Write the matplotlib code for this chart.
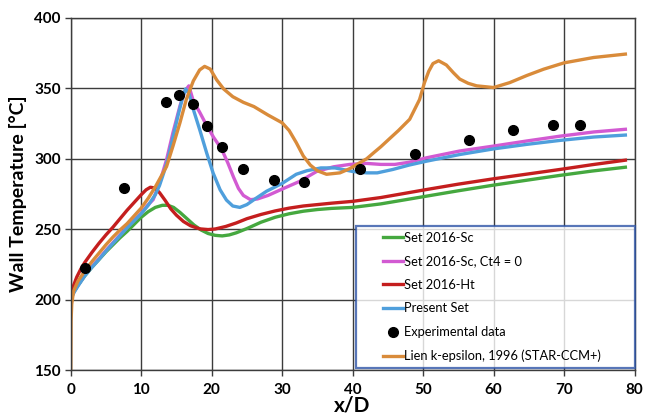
import numpy as np
import matplotlib
matplotlib.use('Agg')
import matplotlib.pyplot as plt
from matplotlib.lines import Line2D
from matplotlib.legend_handler import HandlerLine2D

plt.rcParams['font.family'] = ['Lato', 'DejaVu Sans']

# ---- data ----
green_x = [0, 0.2, 0.5, 1, 2, 3, 4, 5, 6, 7, 8, 9, 10, 11, 12, 13, 13.8, 14.6, 15.5,
           16.5, 17.5, 18.5, 19.5, 20.5, 21.5, 22.5, 23.5, 25, 27, 29, 31, 33, 35, 37,
           40, 44, 50.5, 55, 60, 65, 69.4, 74, 78.7]
green_y = [198, 203, 206, 210, 217, 223, 228.5, 234, 239, 244, 248.5, 253.5, 258.5,
           262.5, 265.5, 267, 267, 265.5, 262, 257.5, 253, 249.5, 247, 245.7, 245.3,
           246, 247.5, 250.5, 255, 258.5, 261, 262.8, 264, 264.8, 265.5, 268, 273.5,
           277.3, 281.3, 285, 288.2, 291.3, 294]

magenta_x = [0, 0.2, 0.5, 1, 2, 3, 4, 5, 6, 7, 8, 9, 10, 11, 11.7, 12.6, 13.6, 14.5,
             15.5, 16.2, 16.76, 17.4, 18.3, 19.3, 20.3, 21.4, 22.3, 23.1, 23.8, 24.5,
             25.5, 26.5, 28, 30, 32.5, 34.9, 37.3, 39.6, 42, 44, 46, 48, 50.5, 55.2,
             60, 64.7, 69.4, 74.2, 78.7]
magenta_y = [198, 203, 206, 210, 217.5, 223.5, 229, 235, 240.5, 246, 251.5, 256.5,
             261.5, 267.5, 271, 282.6, 299.3, 318.3, 337.4, 348, 351.7, 341, 333,
             323.5, 315, 307, 297, 287, 279, 274, 271, 271.5, 274, 278.5, 284, 291,
             294.3, 296, 296.7, 296, 296, 297.5, 300.7, 305.5, 309, 312.6, 316, 319,
             320.9]

red_x = [0, 0.15, 0.4, 0.85, 1.4, 2, 3, 4, 5, 6, 7, 8, 9, 10, 10.7, 11.3, 11.9, 12.6,
         13.4, 14.2, 15, 16, 17, 18.3, 19.5, 20.5, 22, 23.5, 25, 27, 29, 31, 33, 35,
         37, 40, 44, 50.5, 55, 60, 65, 69.4, 74, 78.7]
red_y = [198, 205, 210, 216, 221.5, 226.5, 233.5, 240, 246, 251.5, 257.5, 263.5, 269,
         274.5, 278, 279.8, 279.3, 276, 270.5, 264.5, 260, 255.5, 252.5, 250.3, 249.8,
         250.2, 252, 254.5, 257.5, 260.5, 263, 265, 266.5, 267.5, 268.5, 269.8,
         272.5, 278.2, 282, 285.8, 289.3, 292.4, 295.8, 299]

blue_x = [0, 0.2, 0.5, 1, 2, 3, 4, 5, 6, 7, 8, 9, 10, 11, 12, 12.6, 13.2, 13.8, 14.5,
          15.2, 15.8, 16.3, 16.8, 17.4, 18.3, 19.3, 20.2, 21.2, 22.1, 23, 24, 25,
          26.3, 27.8, 30, 32, 33.5, 35.5, 37.5, 40, 42, 43.5, 45.7, 48, 50.5, 55.2,
          60, 64.7, 69.4, 74.2, 78.7]
blue_y = [198, 202.5, 205.5, 209.5, 217, 223, 228.5, 234.5, 240, 245.5, 251, 256, 261,
          267, 274.5, 281, 290, 300, 315, 330, 342, 349.5, 346, 335, 320.7, 304, 290,
          278, 270.7, 266.5, 265.5, 267.5, 272, 277, 282.5, 289, 291.5, 293.5, 293.5,
          291, 290, 290, 292.4, 295.5, 298.3, 303, 307, 310.2, 313, 315.4, 316.8]

orange_x = [0, 0.05, 0.15, 0.4, 1, 2, 3, 4, 5, 6, 7, 8, 9, 10, 11, 12, 13.6, 14.5,
            15.5, 16.4, 17.4, 18.3, 19, 19.8, 20.7, 21.7, 23, 24.5, 26, 28, 30, 31, 32,
            33, 34, 35, 36.3, 38.2, 39.6, 40.6, 42, 43, 44, 45.3, 46.5, 48.1, 49.5,
            50.2, 50.8, 51.4, 52.2, 53.3, 54.3, 55.2, 56.4, 57.6, 60, 62.3, 64.7,
            67.1, 70, 74.2, 78.7]
orange_y = [150, 185, 197, 206, 213, 220.5, 227, 233, 239, 244.5, 249.5, 254, 259.5,
            265, 272, 280, 294.5, 308.8, 325.5, 342, 355.2, 363, 365.5, 363.6, 356,
            349.5, 344, 340, 337, 331, 325.5, 320, 311.5, 302, 295.5, 291.5, 289, 290,
            293, 296, 300, 304.3, 308.5, 314.5, 320, 328, 342, 354, 362, 367.5, 369.5,
            366.5, 361, 356.5, 353.5, 351.7, 350.5, 354, 359, 363.5, 368, 371.8, 374.2]

exp_x = [2.03, 7.56, 13.47, 15.3, 17.4, 19.3, 21.4, 24.5, 28.8, 33.1, 41.1, 48.8,
         56.5, 62.8, 68.4, 72.3]
exp_y = [222.5, 279.4, 340.2, 345, 339, 323.3, 308.3, 292.9, 285, 283.7, 292.9,
         303.3, 313.3, 320.6, 323.7, 323.7]

labels = ['Set 2016-Sc', 'Set 2016-Sc, Ct4 = 0', 'Set 2016-Ht', 'Present Set',
          'Experimental data', 'Lien k-epsilon, 1996 (STAR-CCM+)']
colors = ['#45a83f', '#d25ad2', '#c41e1e', '#4f9fdc', 'black', '#d98b3a']

# ---- figure ----
fig = plt.figure(figsize=(6.48, 4.19), dpi=100)
ax = fig.add_axes([0.1091, 0.1162, 0.8701, 0.8415])

lw = 2.4
l1, = ax.plot(green_x, green_y, color=colors[0], lw=lw, label=labels[0])
l2, = ax.plot(magenta_x, magenta_y, color=colors[1], lw=lw, label=labels[1])
l3, = ax.plot(red_x, red_y, color=colors[2], lw=lw, label=labels[2])
l4, = ax.plot(blue_x, blue_y, color=colors[3], lw=lw, label=labels[3])
l6, = ax.plot(orange_x, orange_y, color=colors[5], lw=lw, label=labels[5])
l5, = ax.plot(exp_x, exp_y, 'o', color='black', ms=7, label=labels[4], zorder=5)

ax.set_xlim(0, 80)
ax.set_ylim(150, 400)
ax.set_xticks(np.arange(0, 81, 10))
ax.set_yticks(np.arange(150, 401, 50))
ax.grid(True, color='#3c3c3c', lw=1.0)
ax.set_axisbelow(True)
for s in ax.spines.values():
    s.set_color('#3c3c3c')
    s.set_linewidth(1.0)
ax.tick_params(direction='out', length=4, width=1, color='#3c3c3c',
               labelsize=11, pad=3)
for t in ax.get_xticklabels() + ax.get_yticklabels():
    t.set_fontweight('bold')
ax.tick_params(axis='x', pad=5)

ax.set_xlabel('x/D', fontsize=15, fontweight='bold', labelpad=-1)
ax.set_ylabel('Wall Temperature [°C]', fontsize=14, fontweight='bold', labelpad=5)

leg = ax.legend([l1, l2, l3, l4, l5, l6], labels, loc='lower left',
                bbox_to_anchor=(0.506, 0.0065, 0.494, 0.409), mode='expand',
                fontsize=9.3, frameon=True, fancybox=False, borderpad=0.45,
                labelspacing=0.9, handlelength=3.2, handletextpad=0.1,
                borderaxespad=0, handler_map={Line2D: HandlerLine2D(xpad=1.65)})
leg.get_frame().set_edgecolor('#2e54a6')
leg.get_frame().set_linewidth(1.6)

fig.savefig('out.png', dpi=100)
